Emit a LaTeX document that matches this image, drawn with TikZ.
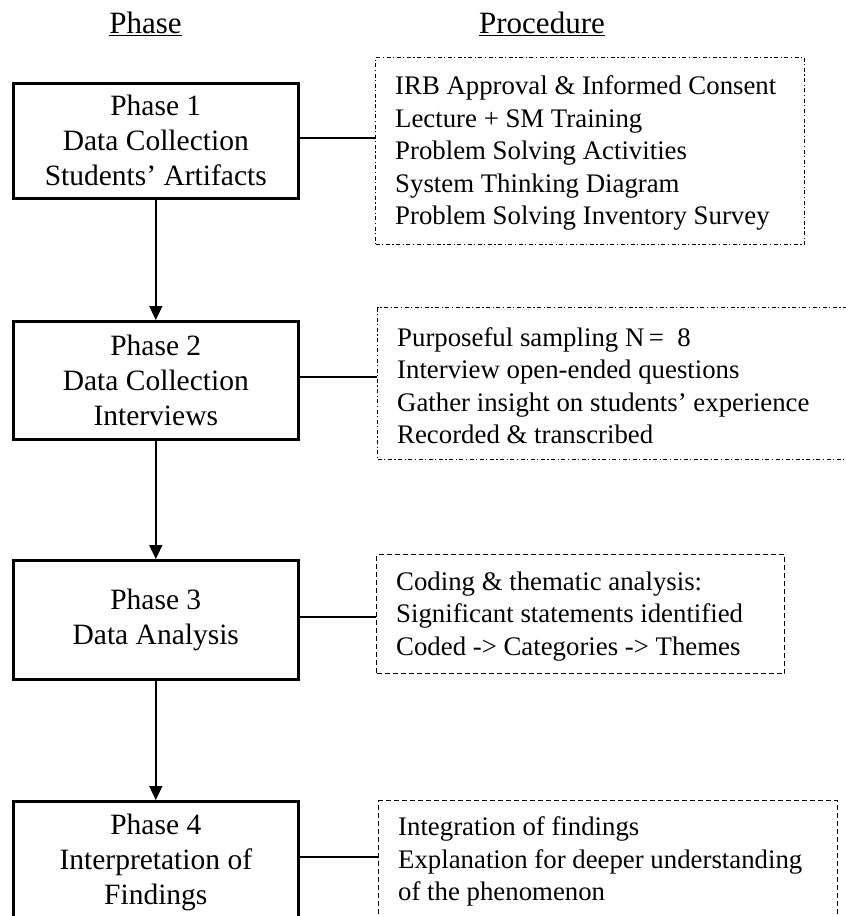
\documentclass[tikz,border=0pt]{standalone}
\usepackage{fontspec}
\setmainfont{Liberation Serif}
\usetikzlibrary{arrows.meta}
\begin{document}
\begin{tikzpicture}[x=1pt,y=-1pt,
  phasebox/.style={draw, line width=2.6pt, anchor=north west, align=center,
    inner sep=0pt, font=\fontsize{29.5}{35}\selectfont},
  procframe/.style={draw, line width=1.4pt, anchor=north west, inner sep=0pt},
  proctext/.style={anchor=west, align=left, inner sep=0pt,
    font=\fontsize{26.8}{32.5}\selectfont},
  dashdot/.style={dash pattern=on 4pt off 2.5pt on 1.2pt off 2.5pt},
  shortdash/.style={dash pattern=on 5pt off 3pt},
  header/.style={anchor=base, font=\fontsize{31}{36}\selectfont},
  flow/.style={line width=1.6pt, -{Triangle[length=14pt,width=13pt]}},
  link/.style={line width=2pt}]
\useasboundingbox (0,0) rectangle (846,916);
\clip (0,0) rectangle (846,916);

\node[header] (hphase) at (145.5,33) {\underline{Phase}};
\node[header] (hproc) at (542,33) {\underline{Procedure}};

\node[phasebox, minimum width=285pt, minimum height=115pt] (p1) at (12,82)
  {Phase 1\\Data Collection\\Students’ Artifacts};
\node[phasebox, minimum width=285pt, minimum height=118pt] (p2) at (12,320)
  {Phase 2\\Data Collection\\Interviews};
\node[phasebox, minimum width=285pt, minimum height=119pt] (p3) at (12,559)
  {Phase 3\\Data Analysis};
\node[phasebox, minimum width=285pt, minimum height=122pt] (p4) at (12,800)
  {Phase 4\\Interpretation of\\Findings};

\node[procframe, dashdot, minimum width=429pt, minimum height=187pt] (q1) at (375,57) {};
\node[proctext] (t1) at ([xshift=20pt,yshift=-2pt]q1.west)
  {IRB Approval \& Informed Consent\\Lecture + SM Training\\Problem Solving Activities\\System Thinking Diagram\\Problem Solving Inventory Survey};
\node[procframe, dashdot, minimum width=480pt, minimum height=152pt] (q2) at (377,307) {};
\node[proctext] (t2) at ([xshift=20pt,yshift=-2pt]q2.west)
  {Purposeful sampling N\,=\ \ 8\\Interview open-ended questions\\Gather insight on students’ experience\\Recorded \& transcribed};
\node[procframe, shortdash, minimum width=408pt, minimum height=119pt] (q3) at (376,554) {};
\node[proctext] (t3) at ([xshift=20pt,yshift=-2pt]q3.west)
  {Coding \& thematic analysis:\\Significant statements identified\\Coded -> Categories -> Themes};
\node[procframe, shortdash, minimum width=459pt, minimum height=118pt] (q4) at (378,800) {};
\node[proctext] (t4) at ([xshift=20pt,yshift=-2pt]q4.west)
  {Integration of findings\\Explanation for deeper understanding\\of the phenomenon};

\draw[flow] (p1.south) -- (p2.north);
\draw[flow] (p2.south) -- (p3.north);
\draw[flow] (p3.south) -- (p4.north);

\draw[link] ([yshift=3pt]p1.east) -- ([yshift=3pt]p1.east -| q1.west);
\draw[link] ([yshift=3pt]p2.east) -- ([yshift=3pt]p2.east -| q2.west);
\draw[link] ([yshift=3pt]p3.east) -- ([yshift=3pt]p3.east -| q3.west);
\draw[link] ([yshift=5pt]p4.east) -- ([yshift=5pt]p4.east -| q4.west);
\end{tikzpicture}
\end{document}
